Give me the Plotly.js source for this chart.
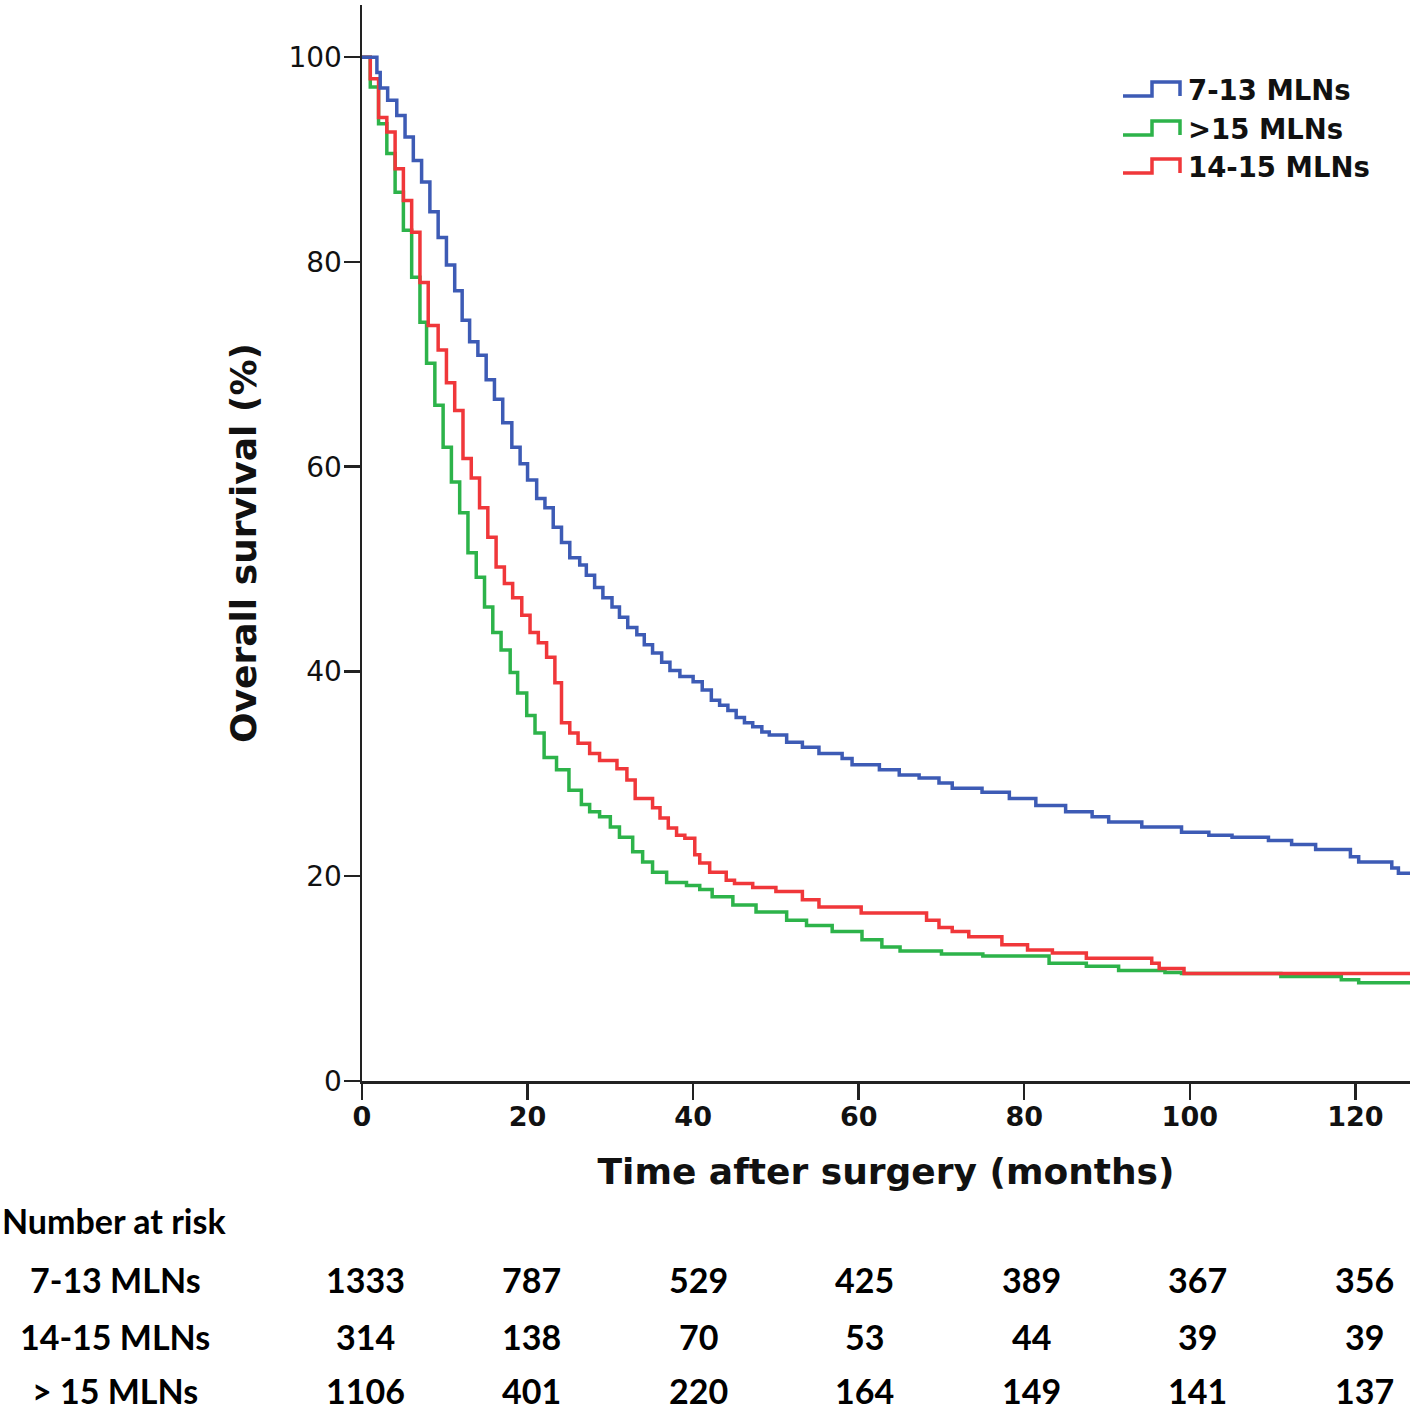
<!DOCTYPE html>
<html>
<head>
<meta charset="utf-8">
<script src="https://cdn.plot.ly/plotly-3.0.1.min.js"></script>
<style>
  html, body { margin: 0; padding: 0; background: #fff; }
  #chart { width: 1417px; height: 1410px; }
</style>
</head>
<body>
<div id="chart"></div>
<script>
// ---- Data (Kaplan-Meier step points: [month, survival %]) ----
const seriesNames = ["7-13 MLNs", ">15 MLNs", "14-15 MLNs"];
const seriesColors = ["#3D5BB5", "#2DB34A", "#F0373A"];

const steps_7_13 = [[0,100],[1.8,98.5],[2.2,97.0],[3.1,95.8],[4.2,94.3],[5.2,92.2],[6.2,89.9],[7.2,87.8],[8.2,84.9],[9.2,82.4],[10.2,79.7],[11.2,77.2],[12.1,74.3],[13.0,72.2],[14.0,70.9],[15.0,68.5],[16.0,66.6],[17.0,64.3],[18.1,61.9],[19.1,60.3],[20.0,58.7],[21.1,56.9],[22.1,56.0],[23.1,54.1],[24.1,52.6],[25.1,51.1],[26.3,50.4],[27.1,49.4],[28.1,48.2],[29.1,47.2],[30.2,46.3],[31.1,45.3],[32.1,44.3],[33.2,43.6],[34.1,42.6],[35.1,41.8],[36.2,40.9],[37.2,40.1],[38.4,39.5],[40.0,39.0],[41.1,38.2],[42.2,37.2],[43.2,36.7],[44.2,36.2],[45.2,35.5],[46.2,35.0],[47.2,34.6],[48.3,34.1],[49.2,33.8],[51.3,33.1],[53.2,32.6],[55.2,32.0],[58.0,31.5],[59.2,30.9],[62.5,30.4],[64.9,29.9],[67.3,29.6],[69.7,29.1],[71.3,28.6],[74.9,28.2],[78.2,27.6],[81.4,26.9],[85.0,26.3],[88.2,25.8],[90.2,25.3],[94.2,24.8],[99.0,24.3],[102.3,24.0],[105.1,23.8],[109.5,23.5],[112.3,23.1],[115.2,22.6],[119.4,21.9],[120.4,21.4],[124.4,20.8],[125.2,20.3],[126.6,20.3]];

const steps_gt15 = [[0,100],[1,97.1],[2,93.5],[3,90.6],[4,86.8],[5,83.1],[6,78.5],[7,74.1],[7.8,70.1],[8.8,66.0],[9.8,61.9],[10.8,58.5],[11.8,55.5],[12.8,51.6],[13.8,49.2],[14.8,46.3],[15.8,43.8],[16.8,42.1],[17.9,39.9],[18.8,37.9],[19.9,35.7],[20.9,34.0],[22,31.6],[23.5,30.4],[25,28.4],[26.5,27.0],[27.5,26.3],[28.7,25.8],[30,24.8],[31.1,23.8],[32.7,22.4],[33.9,21.4],[35.1,20.4],[36.8,19.4],[39.2,19.1],[40.8,18.7],[42.3,18.0],[44.8,17.2],[47.6,16.5],[51.3,15.7],[53.7,15.2],[56.8,14.6],[60.4,13.8],[62.8,13.1],[65,12.7],[70,12.4],[75,12.2],[83,11.5],[87.5,11.2],[91.4,10.8],[97,10.6],[99,10.5],[111,10.2],[118.3,9.9],[120.4,9.6],[126.6,9.6]];

const steps_14_15 = [[0,100],[1,97.9],[2,94.1],[3,92.7],[4,89.1],[5,86.0],[6,82.9],[7,78.0],[8,73.8],[9.2,71.4],[10.2,68.2],[11.2,65.5],[12.2,60.8],[13.2,58.9],[14.2,56.0],[15.2,53.1],[16.2,50.2],[17.2,48.6],[18.2,47.2],[19.3,45.5],[20.3,43.8],[21.3,42.8],[22.3,41.4],[23.3,38.9],[24.1,35.0],[25.1,34.0],[26.1,33.0],[27.5,32.0],[28.7,31.3],[30.8,30.5],[32,29.4],[33,27.6],[35.1,26.7],[36,25.7],[37,24.7],[38,24.0],[39,23.7],[40.2,22.1],[40.8,21.3],[42,20.4],[44,19.6],[45,19.3],[47.2,18.9],[50,18.5],[53.2,17.7],[55.2,17.0],[60.3,16.4],[68.2,15.7],[69.7,15.0],[71.3,14.6],[73.3,14.1],[77.3,13.3],[80.4,12.8],[83.4,12.5],[87.5,12.0],[95.4,11.5],[96.3,11.0],[99.3,10.5],[126.6,10.5]];

const xTicks = [0, 20, 40, 60, 80, 100, 120];
const yTicks = [0, 20, 40, 60, 80, 100];

// Number at risk table
const riskTitle = "Number at risk";
const riskTimes = [0, 20, 40, 60, 80, 100, 120];
const riskLabels = ["7-13 MLNs", "14-15 MLNs", "> 15 MLNs"];
const risk_7_13 = [1333, 787, 529, 425, 389, 367, 356];
const risk_14_15 = [314, 138, 70, 53, 44, 39, 39];
const risk_gt15 = [1106, 401, 220, 164, 149, 141, 137];

// ---- Build ----
const W = 1417, H = 1410;
const M = { l: 362, r: 7, t: 5, b: 329 };
const PW = W - M.l - M.r, PH = H - M.t - M.b;
const px2x = px => (px - M.l) / PW;
const py2y = py => (H - M.b - py) / PH;

const allSteps = [steps_7_13, steps_gt15, steps_14_15];
const traces = allSteps.map((s, i) => ({
  type: "scatter",
  mode: "lines",
  name: seriesNames[i],
  x: s.map(p => p[0]),
  y: s.map(p => p[1]),
  line: { shape: "hv", color: seriesColors[i], width: 3.5 },
  showlegend: false,
  hoverinfo: "skip"
}));
const ordered = [traces[1], traces[2], traces[0]];

const shapes = [];
const annotations = [];

// custom legend with step icons
const legendRows = [90, 129, 167];
legendRows.forEach((ry, i) => {
  const lo = ry + 6, hi = ry - 8;
  const path = `M ${px2x(1123)},${py2y(lo)} L ${px2x(1152)},${py2y(lo)} L ${px2x(1152)},${py2y(hi)} L ${px2x(1180)},${py2y(hi)} L ${px2x(1180)},${py2y(lo)}`;
  shapes.push({ type: "path", xref: "paper", yref: "paper", path: path,
    line: { color: seriesColors[i], width: 3.5 } });
  annotations.push({ xref: "paper", yref: "paper", x: px2x(1186), y: py2y(ry),
    xanchor: "left", yanchor: "middle", showarrow: false, text: seriesNames[i],
    font: { family: "DejaVu Sans", size: 27.5, color: "#111", weight: "bold" } });
});

// risk table
const tableFont = { family: "Lato", size: 34, color: "#000", weight: "bold" };
annotations.push({ xref: "paper", yref: "paper", x: px2x(0), y: py2y(1220),
  xanchor: "left", yanchor: "middle", showarrow: false, text: riskTitle, font: tableFont });
const riskRows = [risk_7_13, risk_14_15, risk_gt15];
const riskRowY = [1279, 1336, 1390];
riskRows.forEach((row, r) => {
  annotations.push({ xref: "paper", yref: "paper", x: px2x(115), y: py2y(riskRowY[r]),
    xanchor: "center", yanchor: "middle", showarrow: false, text: riskLabels[r], font: tableFont });
  row.forEach((v, k) => {
    annotations.push({ xref: "x", yref: "paper", x: riskTimes[k], y: py2y(riskRowY[r]),
      xshift: 3 + riskTimes[k] * 0.05,
      xanchor: "center", yanchor: "middle", showarrow: false, text: String(v), font: tableFont });
  });
});

const axisCommon = {
  showline: true, linecolor: "#222", linewidth: 2.5,
  ticks: "outside", ticklen: 16, tickwidth: 2.5, tickcolor: "#222",
  showgrid: false, zeroline: false, fixedrange: true
};

const layout = {
  width: W, height: H,
  margin: M,
  paper_bgcolor: "#fff", plot_bgcolor: "#fff",
  showlegend: false,
  xaxis: Object.assign({}, axisCommon, {
    range: [0, 126.6], tickmode: "array", tickvals: xTicks, ticktext: xTicks.map(String),
    automargin: false, ticklabelstandoff: -6,
    tickfont: { family: "DejaVu Sans", size: 27, color: "#111", weight: "bold" },
    title: { text: "Time after surgery (months)", standoff: 28,
      font: { family: "DejaVu Sans", size: 36, color: "#111", weight: "bold" } }
  }),
  yaxis: Object.assign({}, axisCommon, {
    range: [0, 105.1], tickmode: "array", tickvals: yTicks, ticktext: yTicks.map(String),
    automargin: false, ticklabelstandoff: -4,
    tickfont: { family: "DejaVu Sans", size: 28, color: "#111" },
    title: { text: "Overall survival (%)", standoff: 21,
      font: { family: "DejaVu Sans", size: 36, color: "#111", weight: "bold" } }
  }),
  shapes: shapes,
  annotations: annotations
};

Plotly.newPlot("chart", ordered, layout, { staticPlot: true, displayModeBar: false });
</script>
</body>
</html>
